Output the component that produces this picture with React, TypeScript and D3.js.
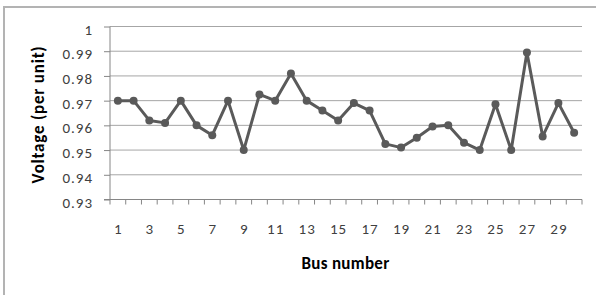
import React, { useRef, useEffect } from 'react';
import * as d3 from 'd3';

// bus numbers 1..30
const buses = [
  1, 2, 3, 4, 5, 6, 7, 8, 9, 10, 11, 12, 13, 14, 15,
  16, 17, 18, 19, 20, 21, 22, 23, 24, 25, 26, 27, 28, 29, 30,
];
// voltage in per unit
const voltages = [
  0.970, 0.970, 0.962, 0.961, 0.970, 0.960, 0.956, 0.970, 0.950, 0.9725,
  0.970, 0.981, 0.970, 0.966, 0.962, 0.969, 0.966, 0.9525, 0.951, 0.955,
  0.9595, 0.960, 0.953, 0.950, 0.9685, 0.950, 0.9895, 0.9555, 0.969, 0.957,
];
const yTicks = [0.93, 0.94, 0.95, 0.96, 0.97, 0.98, 0.99, 1];

export default function App() {
  const svgRef = useRef<SVGSVGElement>(null);

  useEffect(() => {
    const width = 596;
    const height = 295;
    const left = 110;
    const right = 582;
    const top = 26.5;
    const bottom = 199.5;
    const font = "Carlito, Calibri, 'Liberation Sans', Arial, sans-serif";

    const svg = d3.select(svgRef.current)
      .attr('width', width)
      .attr('height', height);
    svg.selectAll('*').remove();

    // chart frame (only top and left edges show)
    svg.append('line').attr('x1', 4).attr('x2', width).attr('y1', 7).attr('y2', 7)
      .attr('stroke', '#b3b3b3').attr('stroke-width', 2);
    svg.append('line').attr('x1', 4).attr('x2', 4).attr('y1', 6).attr('y2', height)
      .attr('stroke', '#b3b3b3').attr('stroke-width', 2);

    // scales
    const x = d3.scaleBand<number>()
      .domain(buses)
      .range([left, right]);
    const y = d3.scaleLinear()
      .domain([0.93, 1])
      .range([bottom, top]);

    // gridlines
    svg.append('g')
      .selectAll('line')
      .data(yTicks.slice(1))
      .enter()
      .append('line')
      .attr('x1', left)
      .attr('x2', right)
      .attr('y1', d => y(d))
      .attr('y2', d => y(d))
      .attr('stroke', '#a6a6a6')
      .attr('stroke-width', 1);

    // y-axis
    const yAxis = svg.append('g')
      .attr('transform', `translate(${left},0)`)
      .call(d3.axisLeft(y).tickValues(yTicks).tickSize(6).tickFormat(d => d3.format('')(+(+d).toFixed(2))));
    yAxis.select('.domain').attr('stroke', '#868686').attr('d', `M0,${top}V${bottom}`);
    yAxis.selectAll('.tick line').attr('stroke', '#868686');
    yAxis.selectAll('.tick text')
      .attr('x', -17)
      .attr('dy', '0.5em')
      .attr('fill', '#404040')
      .style('font-family', font)
      .style('font-size', '15px')
      .style('letter-spacing', '1px');

    // x-axis, ticks between categories
    const xg = svg.append('g').attr('transform', `translate(0,${bottom})`);
    xg.append('line').attr('x1', left - 6).attr('x2', right).attr('y1', 0).attr('y2', 0)
      .attr('stroke', '#868686');
    xg.selectAll('.tk')
      .data(buses.concat([31]))
      .enter()
      .append('line')
      .attr('x1', d => (d <= 30 ? x(d)! : right))
      .attr('x2', d => (d <= 30 ? x(d)! : right))
      .attr('y1', 0)
      .attr('y2', 5)
      .attr('stroke', '#868686');
    xg.selectAll('.lbl')
      .data(buses.filter(d => d % 2 === 1))
      .enter()
      .append('text')
      .attr('x', d => x(d)! + x.bandwidth() / 2 + 0.5)
      .attr('y', 34.5)
      .attr('text-anchor', 'middle')
      .attr('fill', '#404040')
      .style('font-family', font)
      .style('font-size', '15px')
      .style('letter-spacing', '1px')
      .text(d => d);

    // axis titles
    svg.append('text')
      .attr('text-anchor', 'middle')
      .attr('transform', `translate(44, 114.5) rotate(-90)`)
      .attr('fill', '#000')
      .style('font-family', font)
      .style('font-size', '17px')
      .style('font-weight', 'bold')
      .style('letter-spacing', '0.8px')
      .text('Voltage (per unit)');
    svg.append('text')
      .attr('x', 345.5)
      .attr('y', 268.5)
      .attr('text-anchor', 'middle')
      .attr('fill', '#000')
      .style('font-family', font)
      .style('font-size', '17px')
      .style('font-weight', 'bold')
      .style('letter-spacing', '0.3px')
      .text('Bus number');

    // data line
    const pts = buses.map((b, i) => ({ b, v: voltages[i] }));
    const line = d3.line<{ b: number; v: number }>()
      .x(d => x(d.b)! + x.bandwidth() / 2)
      .y(d => y(d.v));
    svg.append('path')
      .datum(pts)
      .attr('fill', 'none')
      .attr('stroke', '#5a5a5a')
      .attr('stroke-width', 3)
      .attr('stroke-linejoin', 'round')
      .attr('d', line);
    svg.selectAll('.dot')
      .data(pts)
      .enter()
      .append('circle')
      .attr('class', 'dot')
      .attr('cx', d => x(d.b)! + x.bandwidth() / 2)
      .attr('cy', d => y(d.v))
      .attr('r', 4)
      .attr('fill', '#5a5a5a');
  }, []);

  return (
    <svg ref={svgRef} style={{ position: 'absolute', left: 0, top: 0, background: '#fff' }}></svg>
  );
}
